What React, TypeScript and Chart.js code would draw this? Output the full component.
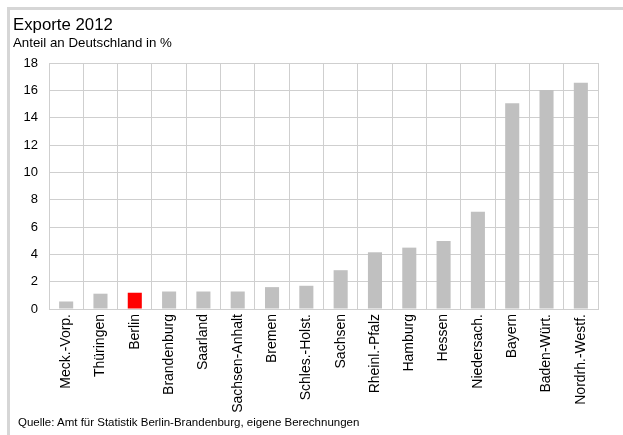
import React, { useEffect, useRef } from "react";
import { Chart, registerables } from "chart.js";

Chart.register(...registerables);

const categories = [
  "Meck.-Vorp.",
  "Thüringen",
  "Berlin",
  "Brandenburg",
  "Saarland",
  "Sachsen-Anhalt",
  "Bremen",
  "Schles.-Holst.",
  "Sachsen",
  "Rheinl.-Pfalz",
  "Hamburg",
  "Hessen",
  "Niedersach.",
  "Bayern",
  "Baden-Würt.",
  "Nordrh.-Westf.",
];
const values = [0.55, 1.12, 1.19, 1.28, 1.28, 1.28, 1.6, 1.7, 2.84, 4.15, 4.49, 4.98, 7.11, 15.05, 16.03, 16.55];
const highlight = "Berlin";
const yTicks = [0, 2, 4, 6, 8, 10, 12, 14, 16, 18];

const TITLE = "Exporte 2012";
const SUBTITLE = "Anteil an Deutschland in %";
const SOURCE = "Quelle: Amt für Statistik Berlin-Brandenburg, eigene Berechnungen";

const FONT = "'Liberation Sans', Arial, sans-serif";
const GRID = "#cfcfcf";

export default function App() {
  const ref = useRef<HTMLCanvasElement | null>(null);
  useEffect(() => {
    if (!ref.current) return;
    const chart = new Chart(ref.current, {
      type: "bar",
      data: {
        labels: categories,
        datasets: [
          {
            data: values,
            backgroundColor: categories.map((c) => (c === highlight ? "#ff0000" : "#c0c0c0")),
            borderWidth: 0,
            barPercentage: 0.41,
            categoryPercentage: 1,
          },
        ],
      },
      options: {
        responsive: false,
        animation: false,
        events: [],
        layout: { padding: { left: 0, top: 63, right: 25, bottom: 0 } },
        plugins: { legend: { display: false }, tooltip: { enabled: false }, title: { display: false } },
        scales: {
          x: {
            grid: { color: GRID, drawTicks: false, offset: true, lineWidth: 1 },
            border: { color: GRID, width: 1 },
            ticks: {
              color: "#000",
              font: { family: FONT, size: 14 },
              maxRotation: 90,
              minRotation: 90,
              padding: 5,
              autoSkip: false,
            },
            afterFit: (s: any) => {
              s.height = 126;
            },
          },
          y: {
            min: 0,
            max: 18,
            afterBuildTicks: (s: any) => {
              s.ticks = yTicks.map((v) => ({ value: v }));
            },
            grid: { color: GRID, drawTicks: false, lineWidth: 1 },
            border: { color: GRID, width: 1 },
            ticks: {
              color: "#000",
              font: { family: FONT, size: 13 },
              padding: 11,
            },
            afterFit: (s: any) => {
              s.width = 49;
            },
          },
        },
      },
    });
    return () => chart.destroy();
  }, []);

  const text = (size: number, top: number, left: number): React.CSSProperties => ({
    position: "absolute",
    left,
    top,
    fontFamily: FONT,
    fontSize: size,
    lineHeight: `${size}px`,
    color: "#000",
    whiteSpace: "nowrap",
    margin: 0,
  });

  return (
    <div>
      <div
        style={{
          position: "absolute",
          left: 7,
          top: 7,
          width: 616,
          height: 428,
          boxSizing: "border-box",
          borderTop: "3px solid #d6d6d6",
          borderLeft: "3px solid #d6d6d6",
        }}
      />
      <canvas
        ref={ref}
        width={623}
        height={435}
        style={{ position: "absolute", left: 0, top: 0, display: "block" }}
      />
      <div style={text(16.8, 16.5, 13)}>{TITLE}</div>
      <div style={text(13.3, 36.4, 13)}>{SUBTITLE}</div>
      <div style={text(11.5, 417, 18)}>{SOURCE}</div>
    </div>
  );
}
